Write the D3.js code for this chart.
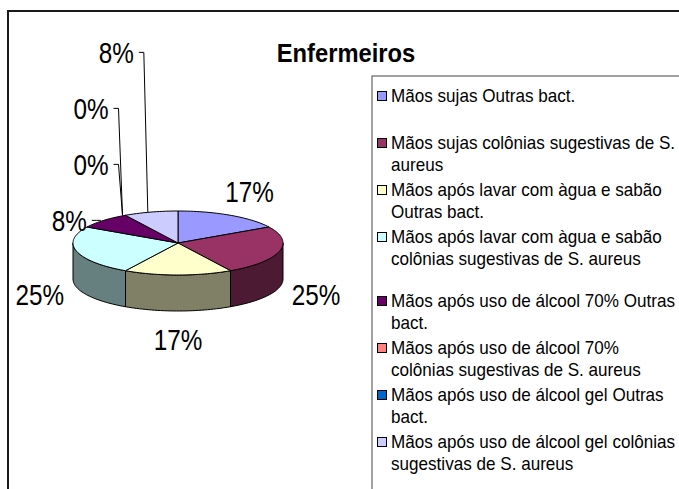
<!doctype html>
<html lang="pt">
<head>
<meta charset="UTF-8">
<title>Enfermeiros</title>
<style>
  body { margin: 0; background: #fff; }
  text { font-family: "Liberation Sans", Arial, sans-serif; fill: #000; }
</style>
</head>
<body>
<div class="container"></div>

<script src="https://d3js.org/d3.v7.min.js"></script>
<script>
  // data
  const categories = [
    'Mãos sujas Outras bact.',
    'Mãos sujas colônias sugestivas de S.\naureus',
    'Mãos após lavar com àgua e sabão\nOutras bact.',
    'Mãos após lavar com àgua e sabão\ncolônias sugestivas de S. aureus',
    'Mãos após uso de álcool 70% Outras\nbact.',
    'Mãos após uso de álcool 70%\ncolônias sugestivas de S. aureus',
    'Mãos após uso de álcool gel Outras\nbact.',
    'Mãos após uso de álcool gel colônias\nsugestivas de S. aureus'
  ];
  const values = [2, 3, 2, 3, 1, 0, 0, 1];
  const colors = ['#9999FF', '#993366', '#FFFFCC', '#CCFFFF', '#660066', '#FF8080', '#0066CC', '#CCCCFF'];
  const title = 'Enfermeiros';

  const W = 679, H = 489;
  const CX = 178, CY = 243, RX = 105, RY = 32, DEPTH = 36;

  const svg = d3.select('.container')
    .append('svg')
    .attr('width', W)
    .attr('height', H)

  // outer chart border
  svg.append('rect')
    .attr('x', 8).attr('y', 11)
    .attr('width', 720).attr('height', 520)
    .attr('fill', 'none')
    .attr('stroke', '#1a1a1a')
    .attr('stroke-width', 2)

  svg.append('text')
    .attr('transform', 'translate(346,62) scale(0.95,1)')
    .attr('text-anchor', 'middle')
    .style('font-size', '25px')
    .style('font-weight', 'bold')
    .text(title)

  const total = d3.sum(values);
  const arcs = d3.pie().sort(null).value(d => d)(values);

  const pt = (a, dy = 0) => [CX + RX * Math.sin(a), CY - RY * Math.cos(a) + dy];
  const line = d3.line();

  function arcPoints(a0, a1, dy) {
    const n = Math.max(2, Math.ceil((a1 - a0) / 0.03));
    return d3.range(n + 1).map(i => pt(a0 + (a1 - a0) * i / n, dy));
  }

  // side colour = half brightness of the top colour
  const shade = c => {
    const r = d3.rgb(c);
    return d3.rgb(r.r * 0.5, r.g * 0.5, r.b * 0.5).formatHex();
  };

  // side walls (front half only)
  const pie = svg.append('g');
  arcs.forEach((d, i) => {
    const a0 = Math.max(d.startAngle, Math.PI / 2);
    const a1 = Math.min(d.endAngle, Math.PI * 1.5);
    if (a1 <= a0) return;
    const pts = arcPoints(a0, a1, 0).concat(arcPoints(a0, a1, DEPTH).reverse());
    pie.append('path')
      .attr('d', line(pts) + 'Z')
      .attr('fill', shade(colors[i]))
      .attr('stroke', '#000')
      .attr('stroke-width', 1)
      .attr('stroke-linejoin', 'round')
  });

  // top faces
  arcs.forEach((d, i) => {
    if (d.endAngle - d.startAngle <= 0) return;
    const pts = [[CX, CY]].concat(arcPoints(d.startAngle, d.endAngle, 0));
    pie.append('path')
      .attr('d', line(pts) + 'Z')
      .attr('fill', colors[i])
      .attr('stroke', '#000')
      .attr('stroke-width', 1)
      .attr('stroke-linejoin', 'round')
  });

  // percentage labels
  const labels = svg.append('g');
  const STACK = 56;
  let firstSmallY = null, k = 0;
  arcs.forEach((d, i) => {
    const mid = (d.startAngle + d.endAngle) / 2;
    const txt = Math.round(d.value / total * 100) + '%';
    if (d.value / total >= 0.1) {
      const x = CX + (RX + 38) * Math.sin(mid);
      const y = CY - (RY + 28) * Math.cos(mid) + (Math.cos(mid) < 0 ? DEPTH : 0);
      labels.append('text')
        .attr('transform', `translate(${x},${y}) scale(0.81,1)`)
        .attr('text-anchor', 'middle')
        .attr('dy', '0.36em')
        .style('font-size', '30px')
        .text(txt)
    } else {
      const [ax, ay] = pt(mid);
      if (firstSmallY === null) firstSmallY = ay;
      const ly = firstSmallY - STACK * k;
      const lx = ax - 17;
      k++;
      labels.append('path')
        .attr('d', line([[lx + 5, ly], [lx + 10, ly], [ax - 3, ay]]))
        .attr('fill', 'none')
        .attr('stroke', '#000')
        .attr('stroke-width', 1)
      labels.append('text')
        .attr('transform', `translate(${lx},${ly}) scale(0.81,1)`)
        .attr('text-anchor', 'end')
        .attr('dy', '0.36em')
        .style('font-size', '30px')
        .text(txt)
    }
  });

  // legend
  const legend = svg.append('g');
  legend.append('rect')
    .attr('x', 372).attr('y', 76)
    .attr('width', 400).attr('height', 500)
    .attr('fill', '#fff')
    .attr('stroke', '#444')
    .attr('stroke-width', 1)

  const LINE_H = 21.5;
  categories.forEach((c, i) => {
    const y = 96 + i * 47 + (i >= 4 ? 17 : 0);
    const g = legend.append('g').attr('transform', `translate(0,${y})`);
    g.append('rect')
      .attr('x', 377.5).attr('y', -4.5)
      .attr('width', 9).attr('height', 9)
      .attr('fill', colors[i])
      .attr('stroke', '#000')
      .attr('stroke-width', 1)
    g.selectAll('text.l')
      .data(c.split('\n'))
      .enter().append('text')
      .attr('transform', (t, j) => `translate(391,${j * LINE_H}) scale(0.95,1)`)
      .attr('dy', '0.36em')
      .style('font-size', '18px')
      .text(t => t)
  });
</script>
</body>
</html>
